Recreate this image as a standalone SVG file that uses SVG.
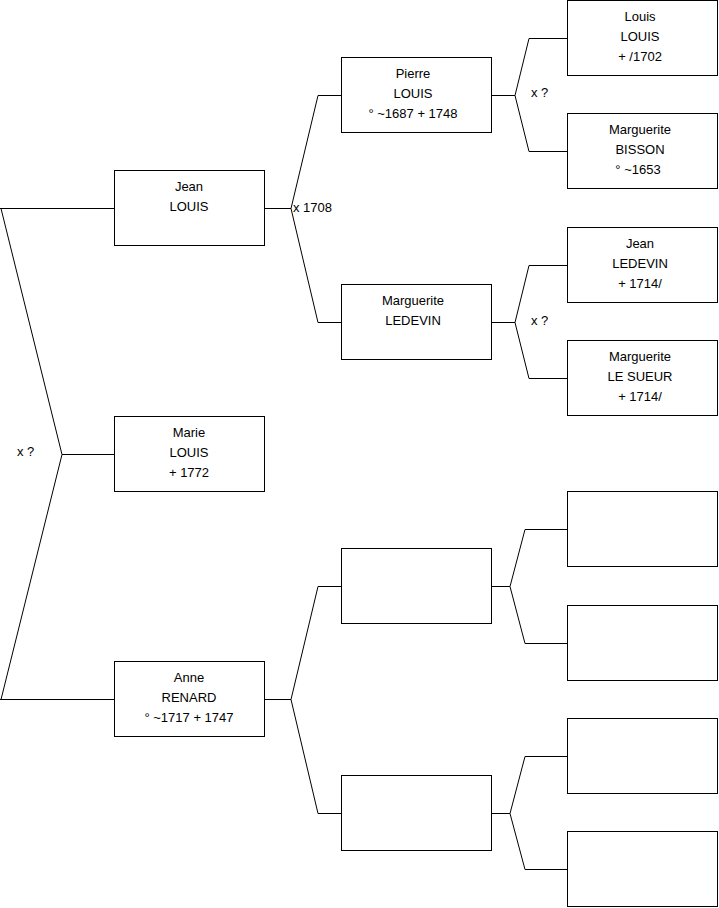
<svg xmlns="http://www.w3.org/2000/svg" width="719" height="908" viewBox="0 0 719 908">
<style>
.box{fill:#fff;stroke:#000;stroke-width:1}
.t{font-family:"Liberation Sans",Arial,sans-serif;font-size:13px;fill:#000;text-anchor:middle}
.l{font-family:"Liberation Sans",Arial,sans-serif;font-size:13px;fill:#000}
.c{fill:none;stroke:#000;stroke-width:1}
</style>
<rect width="719" height="908" fill="#fff"/>
<g id="connectors" class="c">
<path d="M0,208.5 H114 M1,208.5 L62,454.5 L1,699.5 M62,454.5 H114 M0,699.5 H114"/>
<path d="M265,208.5 H291 L318,95.5 H341 M291,208.5 L318,322.5 H341"/>
<path d="M265,699.5 H291 L318,586.5 H341 M291,699.5 L318,813.5 H341"/>
<path d="M492,95.5 H515 L529,38.5 H567 M515,95.5 L529,151.5 H567"/>
<path d="M492,322.5 H515 L529,265.5 H567 M515,322.5 L529,378.5 H567"/>
<path d="M492,586.5 H510 L525,529.5 H567 M510,586.5 L525,643.5 H567"/>
<path d="M492,813.5 H510 L525,756.5 H567 M510,813.5 L525,869.5 H567"/>
</g>
<g id="labels">
<text class="l" x="17" y="456">x ?</text>
<text class="l" x="293" y="212">x 1708</text>
<text class="l" x="531" y="97">x ?</text>
<text class="l" x="531" y="325">x ?</text>
</g>
<g id="jean-louis"><rect class="box" x="114.5" y="170.5" width="150" height="75"/>
<text class="t" x="189" y="191">Jean</text><text class="t" x="189" y="211">LOUIS</text></g>
<g id="marie-louis"><rect class="box" x="114.5" y="416.5" width="150" height="75"/>
<text class="t" x="189" y="437">Marie</text><text class="t" x="189" y="457">LOUIS</text><text class="t" x="189" y="477">+ 1772</text></g>
<g id="anne-renard"><rect class="box" x="114.5" y="661.5" width="150" height="75"/>
<text class="t" x="189" y="682">Anne</text><text class="t" x="189" y="702">RENARD</text><text class="t" x="189" y="722">° ~1717 + 1747</text></g>
<g id="pierre-louis"><rect class="box" x="341.5" y="57.5" width="150" height="75"/>
<text class="t" x="413" y="78">Pierre</text><text class="t" x="413" y="98">LOUIS</text><text class="t" x="413" y="118">° ~1687 + 1748</text></g>
<g id="marguerite-ledevin"><rect class="box" x="341.5" y="284.5" width="150" height="75"/>
<text class="t" x="413" y="305">Marguerite</text><text class="t" x="413" y="325">LEDEVIN</text></g>
<g id="empty-a"><rect class="box" x="341.5" y="548.5" width="150" height="75"/></g>
<g id="empty-b"><rect class="box" x="341.5" y="775.5" width="150" height="75"/></g>
<g id="louis-louis"><rect class="box" x="567.5" y="0.5" width="150" height="75"/>
<text class="t" x="640" y="21">Louis</text><text class="t" x="640" y="41">LOUIS</text><text class="t" x="640" y="61">+ /1702</text></g>
<g id="marguerite-bisson"><rect class="box" x="567.5" y="113.5" width="150" height="75"/>
<text class="t" x="640" y="134">Marguerite</text><text class="t" x="640" y="154">BISSON</text><text class="t" x="638" y="174">° ~1653</text></g>
<g id="jean-ledevin"><rect class="box" x="567.5" y="227.5" width="150" height="75"/>
<text class="t" x="640" y="248">Jean</text><text class="t" x="640" y="268">LEDEVIN</text><text class="t" x="640" y="288">+ 1714/</text></g>
<g id="marguerite-le-sueur"><rect class="box" x="567.5" y="340.5" width="150" height="75"/>
<text class="t" x="640" y="361">Marguerite</text><text class="t" x="640" y="381">LE SUEUR</text><text class="t" x="640" y="401">+ 1714/</text></g>
<g id="empty-c"><rect class="box" x="567.5" y="491.5" width="150" height="75"/></g>
<g id="empty-d"><rect class="box" x="567.5" y="605.5" width="150" height="75"/></g>
<g id="empty-e"><rect class="box" x="567.5" y="718.5" width="150" height="75"/></g>
<g id="empty-f"><rect class="box" x="567.5" y="831.5" width="150" height="75"/></g>
</svg>
